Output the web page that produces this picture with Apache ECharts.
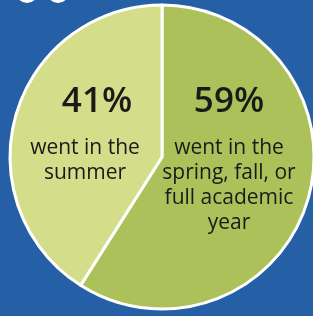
<!DOCTYPE html>
<html><head><meta charset="utf-8">
<script src="https://cdn.jsdelivr.net/npm/echarts@6/dist/echarts.min.js"></script>
<style>html,body{margin:0;padding:0;background:#2560a7;}#c{width:313px;height:316px;}</style>
</head><body><div id="c"></div>
<script>
const categories = ['went in the\nspring, fall, or\nfull academic\nyear', 'went in the\nsummer'];
const values = [59, 41];
const colors = ['#adc15a', '#d3dd8a'];

const chart = echarts.init(document.getElementById('c'));
chart.setOption({
  backgroundColor: '#2560a7',
  animation: false,
  graphic: [
    {type: 'circle', shape: {cx: 27, cy: -8, r: 11}, style: {fill: '#ffffff'}},
    {type: 'circle', shape: {cx: 58, cy: -8, r: 11}, style: {fill: '#ffffff'}}
  ],
  series: [{
    type: 'pie',
    center: [162, 157],
    radius: ['0%', 152],
    startAngle: 90,
    clockwise: true,
    itemStyle: {borderColor: '#ffffff', borderWidth: 3},
    emphasis: {disabled: true},
    label: {
      show: true,
      position: 'inside',
      color: '#1a1a1a',
      fontFamily: 'Open Sans',
      formatter: function (p) {
        const ps = p.dataIndex === 1 ? 'q' : 'p';
        return '{' + ps + '|' + p.value + '%}\n{t|' + p.name.split('\n').join('}\n{t|') + '}';
      },
      rich: {
        p: {fontSize: 35, fontWeight: 600, fontFamily: 'Open Sans', color: '#1a1a1a', lineHeight: 66, align: 'center'},
        q: {fontSize: 35, fontWeight: 600, fontFamily: 'Open Sans', color: '#1a1a1a', lineHeight: 66, align: 'center', padding: [0, 0, 0, 24]},
        t: {fontSize: 21, fontFamily: 'Open Sans', color: '#1a1a1a', lineHeight: 25, align: 'center'}
      }
    },
    labelLine: {show: false},
    labelLayout: function (params) {
      if (params.dataIndex === 0) return {x: 229, y: 69.5, align: 'center', verticalAlign: 'top'};
      return {x: 85, y: 69.5, align: 'center', verticalAlign: 'top'};
    },
    data: values.map((v, i) => ({value: v, name: categories[i], itemStyle: {color: colors[i]}}))
  }]
});
</script></body></html>
